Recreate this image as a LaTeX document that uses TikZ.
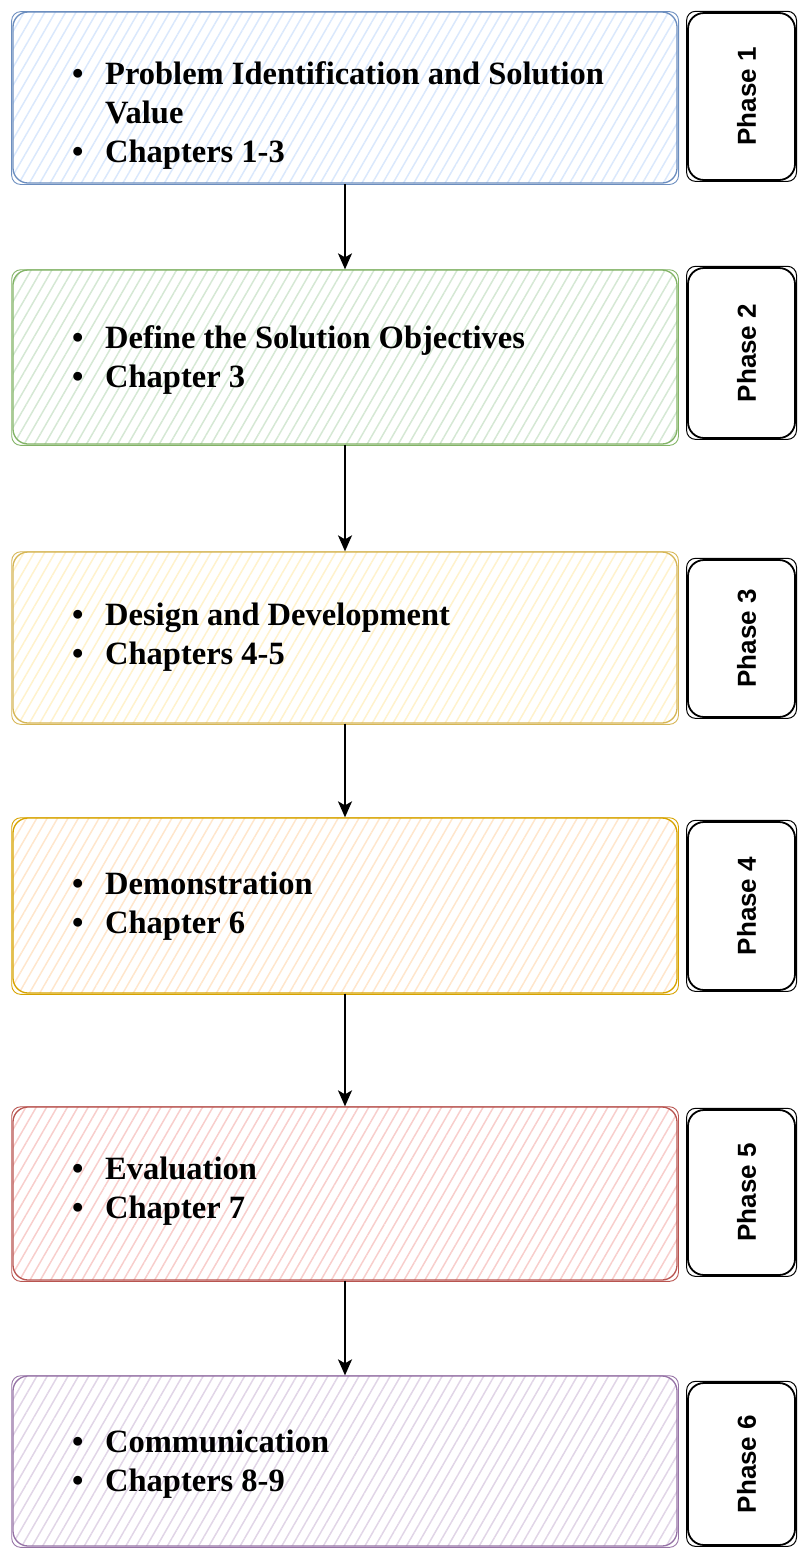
\documentclass[tikz,border=0pt]{standalone}
\usepackage{fontspec}
\setmainfont{Liberation Serif}
\setsansfont{Liberation Sans}
\usetikzlibrary{patterns.meta,arrows.meta}

% draw.io palette (stroke / fill)
\definecolor{blueS}{HTML}{6C8EBF}\definecolor{blueF}{HTML}{DAE8FC}
\definecolor{greenS}{HTML}{82B366}\definecolor{greenF}{HTML}{D5E8D4}
\definecolor{yelS}{HTML}{D6B656}\definecolor{yelF}{HTML}{FFF2CC}
\definecolor{orS}{HTML}{D7A300}\definecolor{orF}{HTML}{FFE6CC}
\definecolor{redS}{HTML}{B85450}\definecolor{redF}{HTML}{F8CECC}
\definecolor{purS}{HTML}{9673A6}\definecolor{purF}{HTML}{E1D5E7}

\tikzset{
  secondstroke/.style={line width=0.9pt, rounded corners=9pt},
  stagebox/.style n args={2}{draw=#1, line width=1.3pt, rounded corners=15pt,
    minimum width=664pt, inner sep=0pt,
    pattern={Lines[angle=60, distance=9pt, line width=1.5pt]}, pattern color=#2},
  phasebox/.style={draw=black, line width=1.8pt, rounded corners=16pt, fill=white,
    minimum width=107pt, inner sep=0pt},
  phasetext/.style={rotate=90, font=\sffamily\bfseries\fontsize{26}{26}\selectfont, inner sep=0pt},
  bullets/.style={font=\bfseries\fontsize{32.5}{39}\selectfont, align=left, anchor=west, inner sep=0pt},
  flow/.style={draw=black, line width=1.8pt, -{Stealth[length=16pt, width=14pt, inset=4pt]}}
}
\newcommand{\itm}{\makebox[33pt][l]{\textbullet}}
\newcommand{\cont}{\hspace*{33pt}}

\begin{document}
\begin{tikzpicture}[x=1pt, y=-1pt]
\useasboundingbox (0,0) rectangle (798,1548);

% stage boxes
\node[stagebox={blueS}{blueF},   minimum height=171pt] (b1) at (345,97.5) {};
\node[stagebox={greenS}{greenF}, minimum height=174pt] (b2) at (345,357) {};
\node[stagebox={yelS}{yelF},     minimum height=171pt] (b3) at (345,637.5) {};
\node[stagebox={orS}{orF},       minimum height=175pt] (b4) at (345,905.5) {};
\node[stagebox={redS}{redF},     minimum height=173pt] (b5) at (345,1193.5) {};
\node[stagebox={purS}{purF},     minimum height=170pt] (b6) at (345,1461) {};

% second, hand-drawn stroke round each stage box
\foreach \n/\c in {b1/blueS, b2/greenS, b3/yelS, b4/orS, b5/redS, b6/purS} {
  \draw[\c, secondstroke] ([shift={(-0.6,0.4)}]\n.north west) rectangle ([shift={(0.8,0.7)}]\n.south east);
}

% bullet texts
\node[bullets] (t1) at (72,116) {\itm Problem Identification and Solution\\\cont Value\\\itm Chapters 1-3};
\node[bullets] (t2) at (72,360) {\itm Define the Solution Objectives\\\itm Chapter 3};
\node[bullets] (t3) at (72,637) {\itm Design and Development\\\itm Chapters 4-5};
\node[bullets] (t4) at (72,906) {\itm Demonstration\\\itm Chapter 6};
\node[bullets] (t5) at (72,1191) {\itm Evaluation\\\itm Chapter 7};
\node[bullets] (t6) at (72,1464) {\itm Communication\\\itm Chapters 8-9};

% phase labels
\node[phasebox, minimum height=167pt] (p1) at (741.5,96.5) {};
\node[phasebox, minimum height=170pt] (p2) at (741.5,353) {};
\node[phasebox, minimum height=157pt] (p3) at (741.5,638.5) {};
\node[phasebox, minimum height=168pt] (p4) at (741.5,906) {};
\node[phasebox, minimum height=165pt] (p5) at (741.5,1192.5) {};
\node[phasebox, minimum height=162pt] (p6) at (741.5,1464) {};
\foreach \i in {1,...,6} {
  \draw[black, secondstroke, line width=1pt] ([shift={(-0.5,-0.8)}]p\i.north west) rectangle ([shift={(0.6,0.5)}]p\i.south east);
  \node[phasetext] (l\i) at ([xshift=5pt]p\i.center) {Phase \i};
}

% flow between stages
\draw[flow] (b1.south) -- (b2.north);
\draw[flow] (b2.south) -- (b3.north);
\draw[flow] (b3.south) -- (b4.north);
\draw[flow] (b4.south) -- (b5.north);
\draw[flow] (b5.south) -- (b6.north);
\end{tikzpicture}
\end{document}
